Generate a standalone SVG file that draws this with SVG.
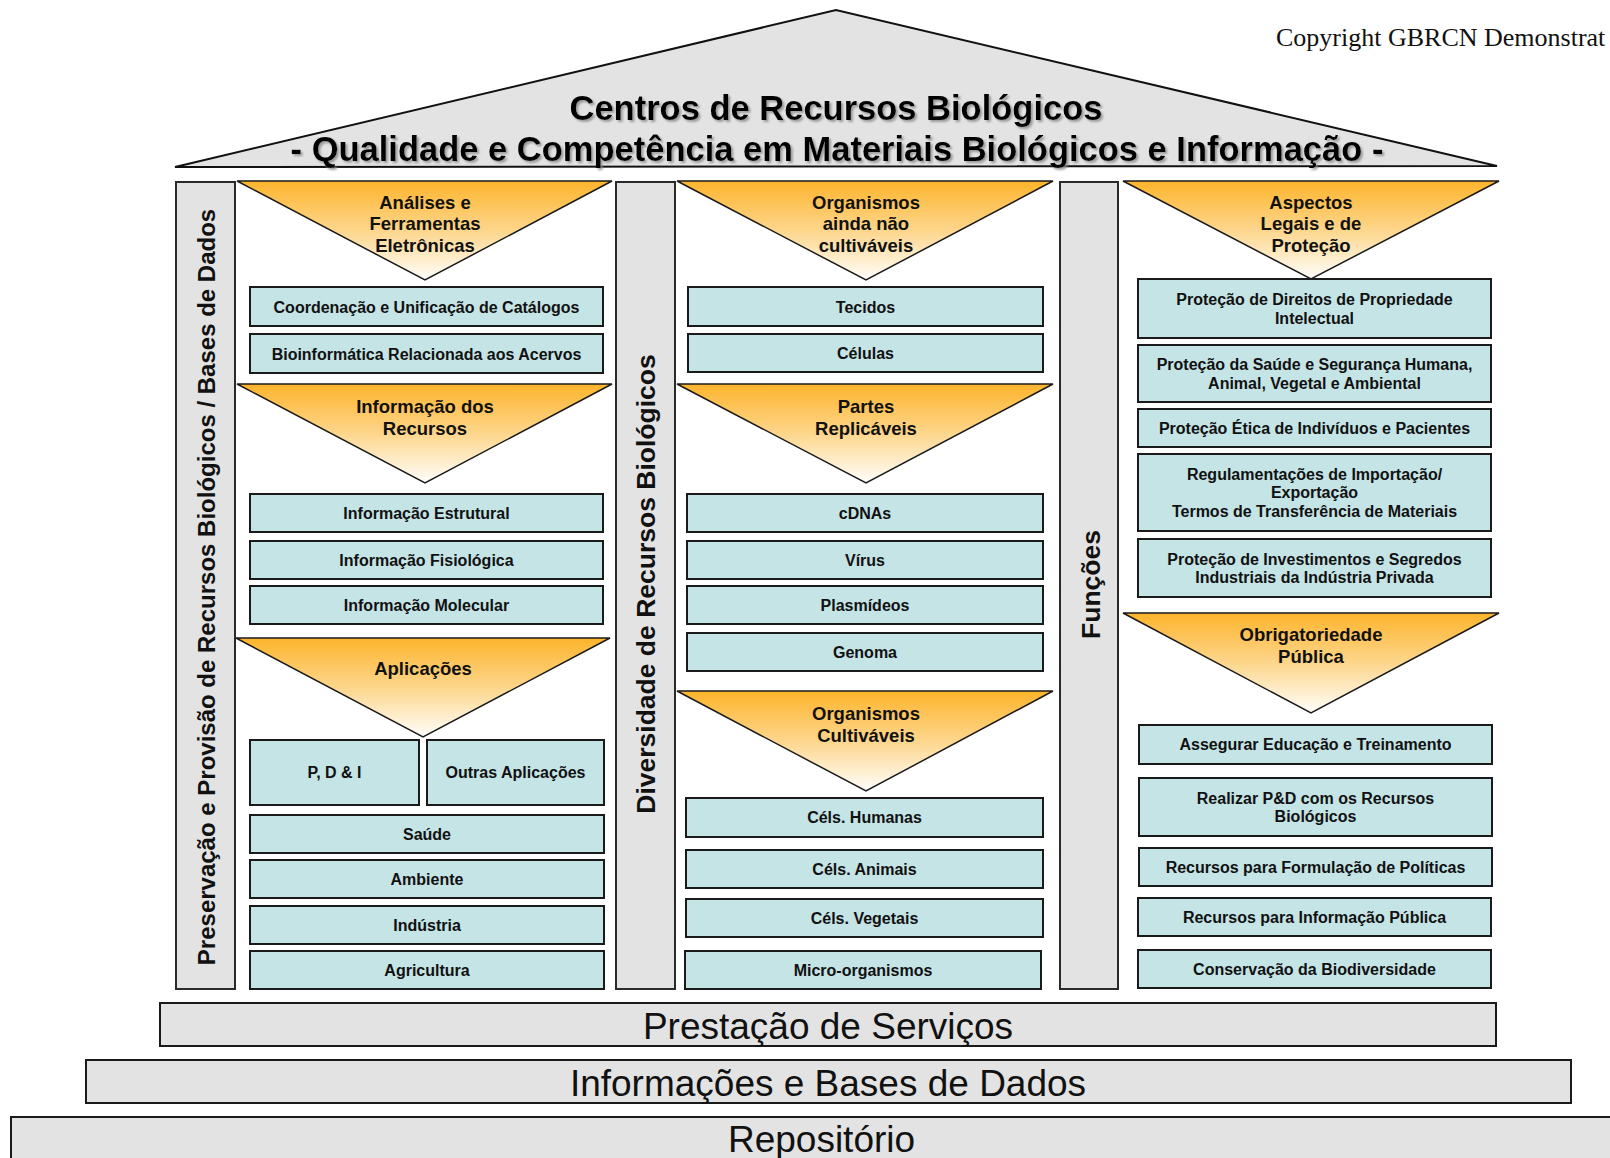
<svg xmlns="http://www.w3.org/2000/svg" width="1610" height="1158" viewBox="0 0 1610 1158">
<defs>
<linearGradient id="tg" x1="0" y1="0" x2="0" y2="1">
<stop offset="0" stop-color="#fdb42c"/>
<stop offset="0.5" stop-color="#fdd68c"/>
<stop offset="1" stop-color="#fffefb"/>
</linearGradient>
<filter id="sh" x="-5%" y="-30%" width="110%" height="160%">
<feDropShadow dx="2" dy="2" stdDeviation="1" flood-color="#888" flood-opacity="0.8"/>
</filter>
</defs>
<style>
.pil{fill:#e3e3e3;stroke:#2a2a2a;stroke-width:2}
.bar{fill:#e3e3e3;stroke:#1a1a1a;stroke-width:2}
.box{fill:#c4e4e6;stroke:#1a1a1a;stroke-width:2}
.tri{fill:url(#tg);stroke:#1a1a1a;stroke-width:1.5}
.bt{font-family:"Liberation Sans",Arial,sans-serif;font-weight:bold;font-size:16px;fill:#111;text-anchor:middle}
.tt{font-family:"Liberation Sans",Arial,sans-serif;font-weight:bold;font-size:18.5px;fill:#111;text-anchor:middle}
.vt{font-family:"Liberation Sans",Arial,sans-serif;font-weight:bold;fill:#111;text-anchor:middle}
.ft{font-family:"Liberation Sans",Arial,sans-serif;font-size:37px;fill:#111;text-anchor:middle}
.ti{font-family:"Liberation Sans",Arial,sans-serif;font-weight:bold;font-size:34.5px;fill:#000;text-anchor:middle}
</style>
<rect width="1610" height="1158" fill="#fff"/>

<g id="roof">
<polygon points="175,167 836,10 1497,166" fill="#e3e3e3" stroke="#111" stroke-width="2"/>
<g filter="url(#sh)">
<text class="ti" x="836" y="120">Centros de Recursos Biológicos</text>
<text class="ti" x="837" y="161">- Qualidade e Competência em Materiais Biológicos e Informação -</text>
</g>
</g>
<text id="copyright" x="1276" y="46" font-family="'Liberation Serif','Times New Roman',serif" font-size="26" fill="#111">Copyright GBRCN Demonstrat</text>

<g id="pillar-left">
<rect class="pil" x="176" y="182" width="59" height="807"/>
<text class="vt" font-size="24" transform="translate(215,587) rotate(-90)">Preservação e Provisão de Recursos Biológicos / Bases de Dados</text>
</g>
<g id="pillar-middle">
<rect class="pil" x="616" y="182" width="59" height="807"/>
<text class="vt" font-size="26.5" transform="translate(655,584) rotate(-90)">Diversidade de Recursos Biológicos</text>
</g>
<g id="pillar-right">
<rect class="pil" x="1060" y="182" width="58" height="807"/>
<text class="vt" font-size="26.5" transform="translate(1100,584.5) rotate(-90)">Funções</text>
</g>

<!-- left column -->
<g id="tri-analises">
<polygon class="tri" points="237,181 612,181 425,280"/>
<text class="tt" x="425" y="208.5">Análises e</text>
<text class="tt" x="425" y="230">Ferramentas</text>
<text class="tt" x="425" y="251.5">Eletrônicas</text>
</g>
<g id="box-coordenacao"><rect class="box" x="250" y="287" width="353" height="39"/><text class="bt" x="426.5" y="312.5">Coordenação e Unificação de Catálogos</text></g>
<g id="box-bioinformatica"><rect class="box" x="250" y="334" width="353" height="39"/><text class="bt" x="426.5" y="359.5">Bioinformática Relacionada aos Acervos</text></g>
<g id="tri-informacao">
<polygon class="tri" points="237,384 612,384 425,483"/>
<text class="tt" x="425" y="413">Informação dos</text>
<text class="tt" x="425" y="434.5">Recursos</text>
</g>
<g id="box-estrutural"><rect class="box" x="250" y="494" width="353" height="38"/><text class="bt" x="426.5" y="518.5">Informação Estrutural</text></g>
<g id="box-fisiologica"><rect class="box" x="250" y="541" width="353" height="38"/><text class="bt" x="426.5" y="565.5">Informação Fisiológica</text></g>
<g id="box-molecular"><rect class="box" x="250" y="586" width="353" height="38"/><text class="bt" x="426.5" y="610.5">Informação Molecular</text></g>
<g id="tri-aplicacoes">
<polygon class="tri" points="236,638 610,638 423,737"/>
<text class="tt" x="423" y="674.5">Aplicações</text>
</g>
<g id="box-pdi"><rect class="box" x="250" y="740" width="169" height="65"/><text class="bt" x="334.5" y="778">P, D &amp; I</text></g>
<g id="box-outras"><rect class="box" x="427" y="740" width="177" height="65"/><text class="bt" x="515.5" y="778">Outras Aplicações</text></g>
<g id="box-saude"><rect class="box" x="250" y="815" width="354" height="38"/><text class="bt" x="427" y="839.5">Saúde</text></g>
<g id="box-ambiente"><rect class="box" x="250" y="860" width="354" height="38"/><text class="bt" x="427" y="884.5">Ambiente</text></g>
<g id="box-industria"><rect class="box" x="250" y="906" width="354" height="38"/><text class="bt" x="427" y="930.5">Indústria</text></g>
<g id="box-agricultura"><rect class="box" x="250" y="951" width="354" height="38"/><text class="bt" x="427" y="975.5">Agricultura</text></g>

<!-- middle column -->
<g id="tri-nao-cultivaveis">
<polygon class="tri" points="677,181 1053,181 866,280"/>
<text class="tt" x="866" y="208.5">Organismos</text>
<text class="tt" x="866" y="230">ainda não</text>
<text class="tt" x="866" y="251.5">cultiváveis</text>
</g>
<g id="box-tecidos"><rect class="box" x="688" y="287" width="355" height="39"/><text class="bt" x="865.5" y="312.5">Tecidos</text></g>
<g id="box-celulas"><rect class="box" x="688" y="334" width="355" height="38"/><text class="bt" x="865.5" y="358.5">Células</text></g>
<g id="tri-partes">
<polygon class="tri" points="677,384 1053,384 866,483"/>
<text class="tt" x="866" y="413">Partes</text>
<text class="tt" x="866" y="434.5">Replicáveis</text>
</g>
<g id="box-cdnas"><rect class="box" x="687" y="494" width="356" height="38"/><text class="bt" x="865" y="518.5">cDNAs</text></g>
<g id="box-virus"><rect class="box" x="687" y="541" width="356" height="38"/><text class="bt" x="865" y="565.5">Vírus</text></g>
<g id="box-plasmideos"><rect class="box" x="687" y="586" width="356" height="38"/><text class="bt" x="865" y="610.5">Plasmídeos</text></g>
<g id="box-genoma"><rect class="box" x="687" y="633" width="356" height="38"/><text class="bt" x="865" y="657.5">Genoma</text></g>
<g id="tri-cultivaveis">
<polygon class="tri" points="677,691 1053,691 866,791"/>
<text class="tt" x="866" y="720">Organismos</text>
<text class="tt" x="866" y="741.5">Cultiváveis</text>
</g>
<g id="box-humanas"><rect class="box" x="686" y="798" width="357" height="39"/><text class="bt" x="864.5" y="823">Céls. Humanas</text></g>
<g id="box-animais"><rect class="box" x="686" y="850" width="357" height="38"/><text class="bt" x="864.5" y="874.5">Céls. Animais</text></g>
<g id="box-vegetais"><rect class="box" x="686" y="899" width="357" height="38"/><text class="bt" x="864.5" y="923.5">Céls. Vegetais</text></g>
<g id="box-micro"><rect class="box" x="685" y="951" width="356" height="38"/><text class="bt" x="863" y="975.5">Micro-organismos</text></g>

<!-- right column -->
<g id="tri-aspectos">
<polygon class="tri" points="1123,181 1499,181 1311,279"/>
<text class="tt" x="1311" y="208.5">Aspectos</text>
<text class="tt" x="1311" y="230">Legais e de</text>
<text class="tt" x="1311" y="251.5">Proteção</text>
</g>
<g id="box-direitos"><rect class="box" x="1138" y="279" width="353" height="59"/><text class="bt" x="1314.5" y="305">Proteção de Direitos de Propriedade</text><text class="bt" x="1314.5" y="323.5">Intelectual</text></g>
<g id="box-saude-seg"><rect class="box" x="1138" y="345" width="353" height="57"/><text class="bt" x="1314.5" y="370">Proteção da Saúde e Segurança Humana,</text><text class="bt" x="1314.5" y="388.5">Animal, Vegetal e Ambiental</text></g>
<g id="box-etica"><rect class="box" x="1138" y="409" width="353" height="38"/><text class="bt" x="1314.5" y="433.5">Proteção Ética de Indivíduos e Pacientes</text></g>
<g id="box-regulamentacoes"><rect class="box" x="1138" y="454" width="353" height="77"/><text class="bt" x="1314.5" y="479.5">Regulamentações de Importação/</text><text class="bt" x="1314.5" y="498">Exportação</text><text class="bt" x="1314.5" y="516.5">Termos de Transferência de Materiais</text></g>
<g id="box-investimentos"><rect class="box" x="1138" y="539" width="353" height="58"/><text class="bt" x="1314.5" y="564.5">Proteção de Investimentos e Segredos</text><text class="bt" x="1314.5" y="583">Industriais da Indústria Privada</text></g>
<g id="tri-obrigatoriedade">
<polygon class="tri" points="1123,613 1499,613 1311,713"/>
<text class="tt" x="1311" y="641">Obrigatoriedade</text>
<text class="tt" x="1311" y="662.5">Pública</text>
</g>
<g id="box-educacao"><rect class="box" x="1139" y="725" width="353" height="39"/><text class="bt" x="1315.5" y="750">Assegurar Educação e Treinamento</text></g>
<g id="box-pd"><rect class="box" x="1139" y="778" width="353" height="58"/><text class="bt" x="1315.5" y="803.5">Realizar P&amp;D com os Recursos</text><text class="bt" x="1315.5" y="822">Biológicos</text></g>
<g id="box-politicas"><rect class="box" x="1139" y="848" width="353" height="38"/><text class="bt" x="1315.5" y="872.5">Recursos para Formulação de Políticas</text></g>
<g id="box-info-publica"><rect class="box" x="1138" y="898" width="353" height="38"/><text class="bt" x="1314.5" y="922.5">Recursos para Informação Pública</text></g>
<g id="box-conservacao"><rect class="box" x="1138" y="950" width="353" height="38"/><text class="bt" x="1314.5" y="974.5">Conservação da Biodiversidade</text></g>

<!-- foundation -->
<g id="bar-prestacao"><rect class="bar" x="160" y="1003" width="1336" height="43"/><text class="ft" x="828" y="1039">Prestação de Serviços</text></g>
<g id="bar-informacoes"><rect class="bar" x="86" y="1060" width="1485" height="43"/><text class="ft" x="828" y="1096">Informações e Bases de Dados</text></g>
<g id="bar-repositorio"><rect class="bar" x="11" y="1117" width="1650" height="80"/><text class="ft" x="821.5" y="1152">Repositório</text></g>
<g id="connectors"></g>
</svg>
